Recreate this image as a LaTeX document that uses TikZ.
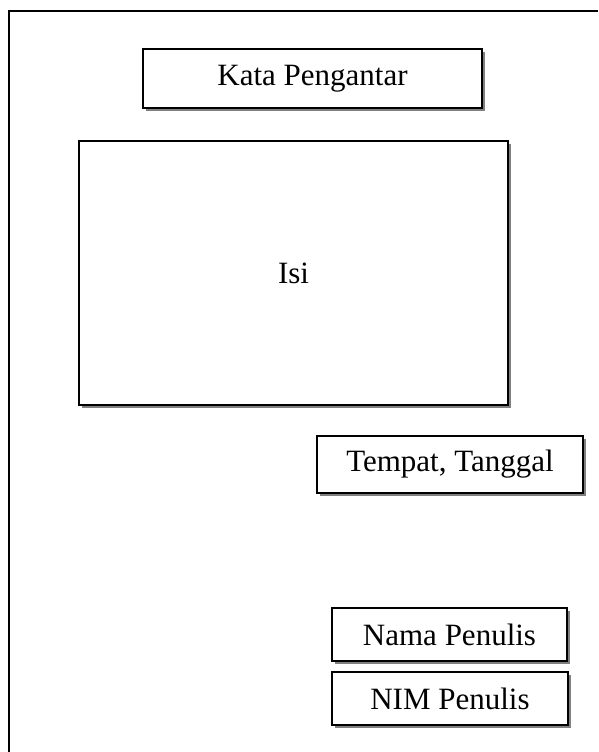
\documentclass[tikz,border=0pt]{standalone}
\usepackage{fontspec}
\setmainfont{Liberation Serif}
\usetikzlibrary{shadows}
\tikzset{
  pagebox/.style={draw=black, line width=2.5pt, fill=white, inner sep=0pt,
    font=\fontsize{31}{36}\selectfont,
    drop shadow={shadow xshift=3pt, shadow yshift=-3pt, fill=black!50, opacity=1}},
  frameline/.style={draw=black, line width=2.2pt}
}
\begin{document}
\begin{tikzpicture}[x=1pt,y=-1pt]
\useasboundingbox (0,0) rectangle (598,752);
\coordinate (tl) at (9,11);
\coordinate (tr) at (598,11);
\coordinate (bl) at (9,752);
\draw[frameline] (tr) -- (tl) -- (bl);
\node[pagebox, minimum width=339pt, minimum height=59pt] (kata) at (312.5,78.5) {Kata Pengantar};
\node[pagebox, minimum width=429pt, minimum height=264pt] (isi) at (293.5,273) {Isi};
\node[pagebox, minimum width=266pt, minimum height=57pt] (tempat) at (450,464.5) {Tempat, Tanggal};
\node[pagebox, minimum width=235pt, minimum height=53pt] (nama) at (449.5,634.5) {Nama Penulis};
\node[pagebox, minimum width=236pt, minimum height=53pt] (nim) at (450,698.5) {NIM Penulis};
\end{tikzpicture}
\end{document}
